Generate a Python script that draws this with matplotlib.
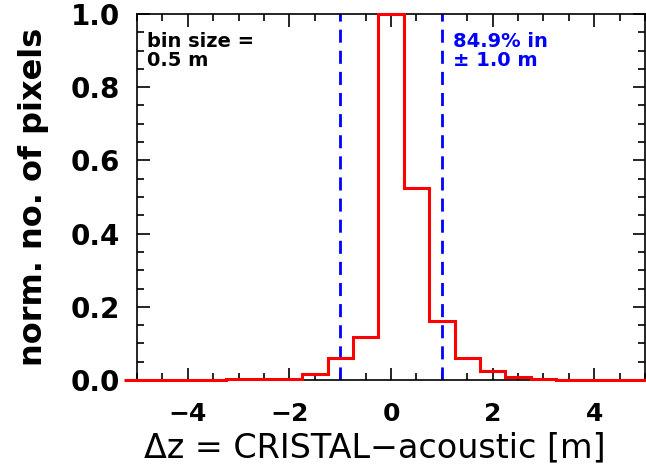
import matplotlib
matplotlib.use("Agg")
import matplotlib.pyplot as plt
from matplotlib.ticker import MultipleLocator
import numpy as np

# histogram of height differences, 0.5 m bins centred on multiples of 0.5
bin_size = 0.5
bin_centres = np.arange(-5.0, 5.01, bin_size)
norm_counts = [0, 0, 0, 0,
               0.004, 0.004, 0.004, 0.016, 0.059,
               0.118, 1.0, 0.525, 0.162, 0.059,
               0.025, 0.007, 0.004, 0, 0, 0, 0]
window = 1.0
inside_pct = 84.9

edges = np.append(bin_centres - bin_size / 2, bin_centres[-1] + bin_size / 2)

fig = plt.figure(figsize=(6.46, 4.73), dpi=100)
ax = fig.add_axes([137 / 646, 1 - 380 / 473, (645 - 137) / 646, (380 - 14) / 473])

ax.stairs(norm_counts, edges, color="red", linewidth=2.2, baseline=None,
          zorder=3, clip_on=False)
for xv in (-window, window):
    ax.axvline(xv, color="blue", linewidth=2.0, linestyle=(0, (4.7, 2.9)), zorder=2)

ax.set_xlim(-5, 5)
ax.set_ylim(0, 1.0)
ax.xaxis.set_major_locator(MultipleLocator(2))
ax.xaxis.set_minor_locator(MultipleLocator(0.5))
ax.yaxis.set_major_locator(MultipleLocator(0.2))
ax.yaxis.set_minor_locator(MultipleLocator(0.05))
ax.tick_params(which="both", direction="in", top=True, right=True, width=1.2)
ax.tick_params(which="major", length=9)
ax.tick_params(which="minor", length=5)
ax.tick_params(axis="x", which="major", labelsize=18, pad=16)
ax.tick_params(axis="y", which="major", labelsize=20, pad=12)
ax.yaxis.set_major_formatter(plt.FuncFormatter(lambda v, p: f"{v:.1f}"))
for lab in ax.get_xticklabels() + ax.get_yticklabels():
    lab.set_fontweight("bold")
for sp in ax.spines.values():
    sp.set_linewidth(1.2)

ax.set_xlabel("Δz = CRISTAL\u2212acoustic [m]", fontsize=24)
ax.xaxis.set_label_coords(0.468, -0.14)
ax.set_ylabel("norm. no. of pixels", fontsize=23, fontweight="bold", labelpad=16)

ax.text(-4.8, 0.952, f"bin size =\n{bin_size} m", fontsize=14, fontweight="bold",
        va="top", ha="left", linespacing=1.05)
ax.text(1.22, 0.952, f"{inside_pct}% in\n\u00b1 {window:.1f} m", fontsize=14,
        fontweight="bold", color="blue", va="top", ha="left", linespacing=1.05)

fig.savefig("out.png", dpi=100)
